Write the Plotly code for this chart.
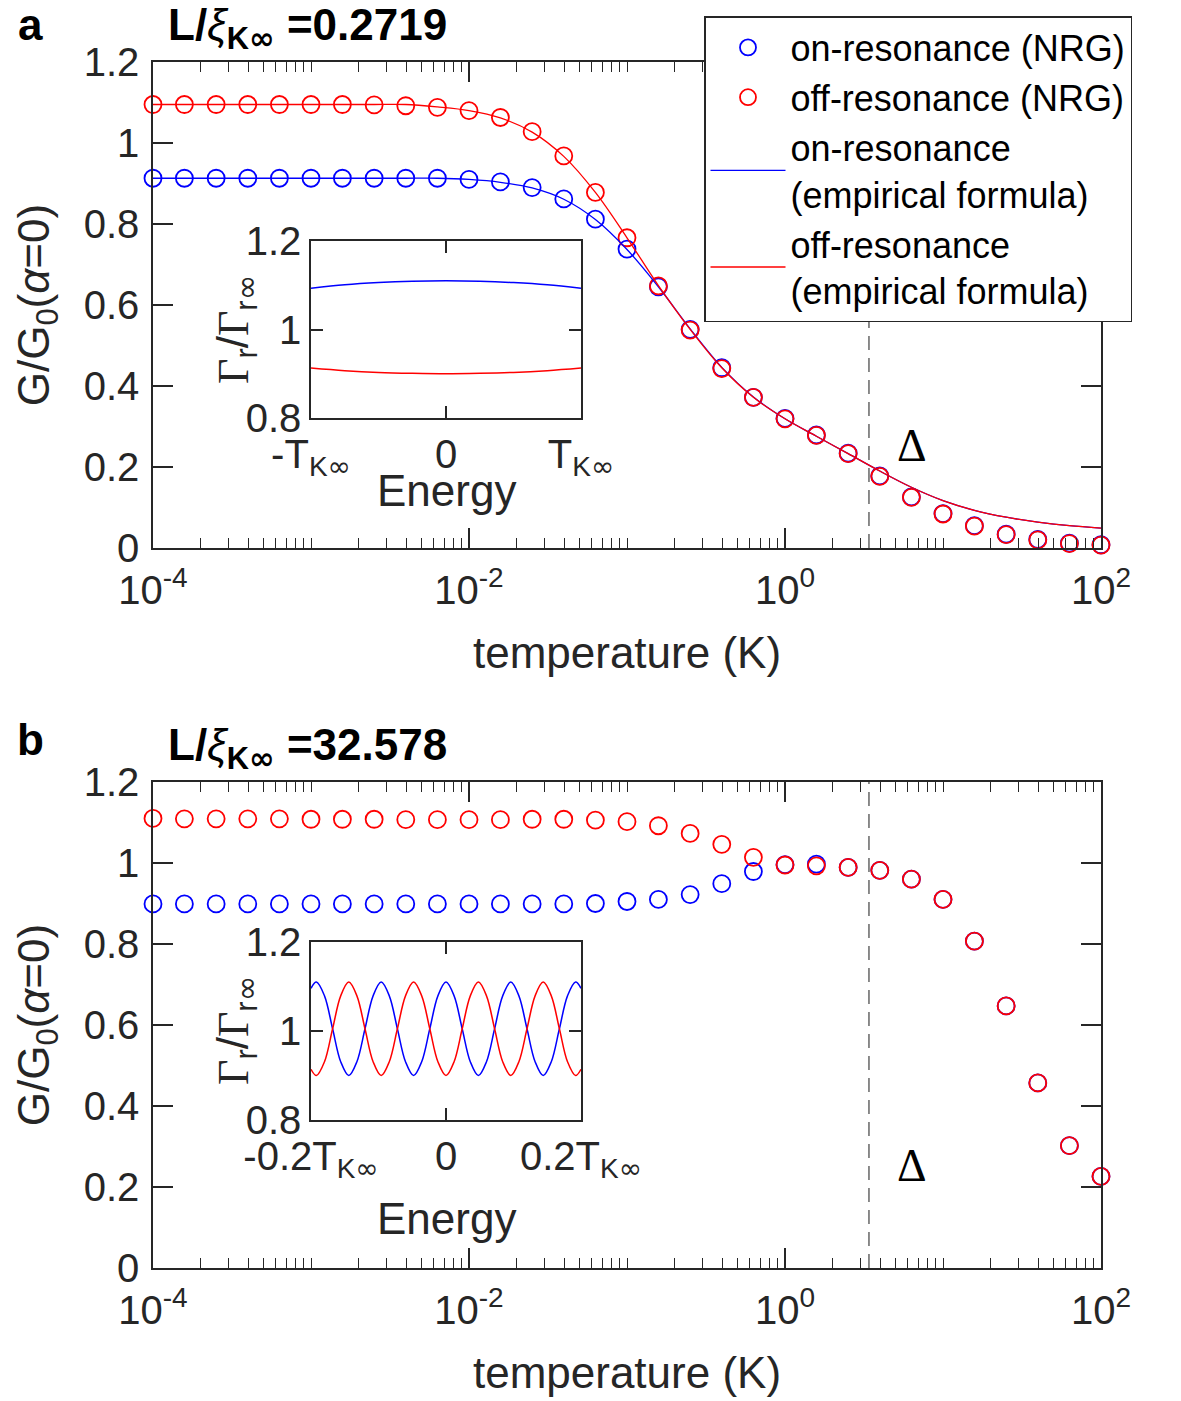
import math
import plotly.graph_objects as go

W, H = 1181, 1401

# ---------------- data ----------------
# temperature grid (K), 0.2-decade steps from 1e-4 to 1e2
temperature_K = [1.00e-4, 1.58e-4, 2.51e-4, 3.98e-4, 6.31e-4,
                 1.00e-3, 1.58e-3, 2.51e-3, 3.98e-3, 6.31e-3,
                 1.00e-2, 1.58e-2, 2.51e-2, 3.98e-2, 6.31e-2,
                 1.00e-1, 1.58e-1, 2.51e-1, 3.98e-1, 6.31e-1,
                 1.00, 1.58, 2.51, 3.98, 6.31,
                 10.0, 15.8, 25.1, 39.8, 63.1, 100.0]

# panel a (L/xi = 0.2719)
a_on_nrg = [0.913, 0.913, 0.913, 0.913, 0.913, 0.913, 0.913, 0.913, 0.913, 0.913,
            0.910, 0.904, 0.890, 0.862, 0.812, 0.738, 0.645, 0.540, 0.445, 0.372,
            0.320, 0.279, 0.234, 0.178, 0.126, 0.085, 0.055, 0.034, 0.021, 0.012, 0.008]
a_off_nrg = [1.095, 1.095, 1.095, 1.095, 1.095, 1.095, 1.095, 1.094, 1.092, 1.088,
             1.080, 1.063, 1.028, 0.968, 0.878, 0.766, 0.647, 0.538, 0.443, 0.372,
             0.319, 0.278, 0.233, 0.177, 0.125, 0.084, 0.054, 0.033, 0.020, 0.011, 0.007]
a_on_formula = [0.913, 0.913, 0.913, 0.913, 0.913, 0.913, 0.913, 0.913, 0.913, 0.913,
                0.910, 0.903, 0.889, 0.861, 0.811, 0.737, 0.645, 0.541, 0.446, 0.373,
                0.319, 0.276, 0.233, 0.190, 0.150, 0.117, 0.093, 0.076, 0.064, 0.055, 0.049]
a_off_formula = [1.095, 1.095, 1.095, 1.095, 1.095, 1.095, 1.095, 1.095, 1.095, 1.089,
                 1.080, 1.062, 1.027, 0.967, 0.878, 0.766, 0.648, 0.540, 0.445, 0.372,
                 0.319, 0.276, 0.233, 0.190, 0.150, 0.117, 0.093, 0.076, 0.064, 0.055, 0.049]

# panel b (L/xi = 32.578)
b_on_nrg = [0.899, 0.899, 0.899, 0.899, 0.899, 0.899, 0.899, 0.899, 0.899, 0.899,
            0.899, 0.899, 0.899, 0.899, 0.900, 0.905, 0.910, 0.922, 0.949, 0.979,
            0.996, 0.997, 0.989, 0.982, 0.960, 0.910, 0.807, 0.647, 0.457, 0.302, 0.226]
b_off_nrg = [1.110, 1.109, 1.109, 1.109, 1.109, 1.108, 1.108, 1.108, 1.107, 1.107,
             1.107, 1.107, 1.108, 1.108, 1.106, 1.102, 1.092, 1.073, 1.046, 1.014,
             0.995, 0.993, 0.989, 0.982, 0.960, 0.910, 0.807, 0.647, 0.457, 0.302, 0.226]

DELTA_K = 3.4          # dashed line position
DELTA_LABEL = (6.4, 0.254)

# insets: Gamma_r / Gamma_r_inf vs energy
inset_a_energy = [-1.0, -0.75, -0.5, -0.25, 0.0, 0.25, 0.5, 0.75, 1.0]
inset_a_on = [1.093, 1.101, 1.106, 1.109, 1.110, 1.109, 1.106, 1.101, 1.093]
inset_a_off = [0.913, 0.907, 0.903, 0.901, 0.900, 0.901, 0.903, 0.907, 0.913]

inset_b_energy = [-0.200, -0.192, -0.180, -0.168, -0.156, -0.144, -0.132, -0.120, -0.108,
                  -0.096, -0.084, -0.072, -0.060, -0.048, -0.036, -0.024, -0.012, 0.000,
                  0.012, 0.024, 0.036, 0.048, 0.060, 0.072, 0.084, 0.096, 0.108, 0.120,
                  0.132, 0.144, 0.156, 0.168, 0.180, 0.192, 0.200]
inset_b_on = [1.096, 1.110, 1.079, 1.005, 0.931, 0.900, 0.931, 1.005, 1.079,
              1.110, 1.079, 1.005, 0.931, 0.900, 0.931, 1.005, 1.079, 1.110,
              1.079, 1.005, 0.931, 0.900, 0.931, 1.005, 1.079, 1.110, 1.079, 1.005,
              0.931, 0.900, 0.931, 1.005, 1.079, 1.110, 1.096]
inset_b_off = [0.914, 0.900, 0.931, 1.005, 1.079, 1.110, 1.079, 1.005, 0.931,
               0.900, 0.931, 1.005, 1.079, 1.110, 1.079, 1.005, 0.931, 0.900,
               0.931, 1.005, 1.079, 1.110, 1.079, 1.005, 0.931, 0.900, 0.931, 1.005,
               1.079, 1.110, 1.079, 1.005, 0.931, 0.900, 0.914]

x_tick_vals = [1e-4, 1e-2, 1e0, 1e2]
x_tick_text = ["10<sup>-4</sup>", "10<sup>-2</sup>", "10<sup>0</sup>", "10<sup>2</sup>"]
y_tick_vals = [0, 0.2, 0.4, 0.6, 0.8, 1.0, 1.2]
y_tick_text = ["0", "0.2", "0.4", "0.6", "0.8", "1", "1.2"]

# ---------------- style ----------------
BLUE = "#0000FF"
RED = "#FF0000"
AX = "#262626"
SANS = "Liberation Sans, Arial, Helvetica, sans-serif"
SERIF = "Liberation Serif, Times New Roman, serif"
TICK_FS = 40
LABEL_FS = 44
INF = "<span style='font-family:DejaVu Sans'>∞</span>"


def px_x(p):
    return p / W


def px_y(p):
    return 1 - p / H


fig = go.Figure()

mk = dict(symbol="circle-open", size=17, line=dict(width=1.8))

# panel a
fig.add_trace(go.Scatter(x=temperature_K, y=a_on_nrg, mode="markers", name="on-resonance (NRG)",
                         marker=dict(color=BLUE, **mk), cliponaxis=False, xaxis="x", yaxis="y"))
fig.add_trace(go.Scatter(x=temperature_K, y=a_off_nrg, mode="markers", name="off-resonance (NRG)",
                         marker=dict(color=RED, **mk), cliponaxis=False, xaxis="x", yaxis="y"))
fig.add_trace(go.Scatter(x=temperature_K, y=a_on_formula, mode="lines",
                         name="on-resonance<br>(empirical formula)",
                         line=dict(color=BLUE, width=1.3, shape="spline"), xaxis="x", yaxis="y"))
fig.add_trace(go.Scatter(x=temperature_K, y=a_off_formula, mode="lines",
                         name="off-resonance<br>(empirical formula)",
                         line=dict(color=RED, width=1.3, shape="spline"), xaxis="x", yaxis="y"))

# panel b
fig.add_trace(go.Scatter(x=temperature_K, y=b_on_nrg, mode="markers", showlegend=False,
                         marker=dict(color=BLUE, **mk), cliponaxis=False, xaxis="x2", yaxis="y2"))
fig.add_trace(go.Scatter(x=temperature_K, y=b_off_nrg, mode="markers", showlegend=False,
                         marker=dict(color=RED, **mk), cliponaxis=False, xaxis="x2", yaxis="y2"))

# insets
fig.add_trace(go.Scatter(x=inset_a_energy, y=inset_a_on, mode="lines", showlegend=False,
                         line=dict(color=BLUE, width=1.5, shape="spline"), xaxis="x3", yaxis="y3"))
fig.add_trace(go.Scatter(x=inset_a_energy, y=inset_a_off, mode="lines", showlegend=False,
                         line=dict(color=RED, width=1.5, shape="spline"), xaxis="x3", yaxis="y3"))
fig.add_trace(go.Scatter(x=inset_b_energy, y=inset_b_on, mode="lines", showlegend=False,
                         line=dict(color=BLUE, width=1.5, shape="spline"), xaxis="x4", yaxis="y4"))
fig.add_trace(go.Scatter(x=inset_b_energy, y=inset_b_off, mode="lines", showlegend=False,
                         line=dict(color=RED, width=1.5, shape="spline"), xaxis="x4", yaxis="y4"))

common = dict(showline=True, linecolor=AX, linewidth=1.5, mirror="ticks", ticks="inside",
              tickcolor=AX, tickwidth=1.5, showgrid=False, zeroline=False, automargin=False,
              tickfont=dict(family=SANS, size=TICK_FS, color=AX))

minor_vals = [m * 10.0 ** n for n in range(-4, 2) for m in range(1, 10)
              if not (m == 1 and n % 2 == 0)]

main_x = dict(common, type="log", range=[-4, 2], tickmode="array", tickvals=x_tick_vals,
              ticktext=x_tick_text, ticklen=20, ticklabelstandoff=6,
              minor=dict(tickmode="array", tickvals=minor_vals, ticks="inside", ticklen=10,
                         tickcolor=AX, tickwidth=1.2, showgrid=False),
              title=dict(text="temperature (K)", font=dict(family=SANS, size=LABEL_FS, color=AX),
                         standoff=26))
main_y = dict(common, range=[0, 1.2], tickmode="array", tickvals=y_tick_vals, ticktext=y_tick_text,
              ticklen=20, ticklabelstandoff=4,
              title=dict(text="G/G<sub>0</sub>(<i>α</i>=0)",
                         font=dict(family=SANS, size=LABEL_FS, color=AX), standoff=20))

fig.update_layout(
    width=W, height=H, margin=dict(l=0, r=0, t=0, b=0, autoexpand=False),
    paper_bgcolor="white", plot_bgcolor="white",
    font=dict(family=SANS, color=AX),
    xaxis=dict(main_x, domain=[px_x(153), px_x(1101)], anchor="y"),
    yaxis=dict(main_y, domain=[px_y(548), px_y(62)], anchor="x"),
    xaxis2=dict(main_x, domain=[px_x(153), px_x(1101)], anchor="y2"),
    yaxis2=dict(main_y, domain=[px_y(1268), px_y(782)], anchor="x2"),
    xaxis3=dict(common, range=[-1, 1], tickmode="array", tickvals=[-1, 0, 1],
                ticktext=["-T<sub>K%s</sub>" % INF, "0", "T<sub>K%s</sub>" % INF], ticklen=12,
                domain=[px_x(311), px_x(581)], anchor="y3"),
    yaxis3=dict(common, range=[0.8, 1.2], tickmode="array", tickvals=[0.8, 1.0, 1.2],
                ticktext=["0.8", "1", "1.2"], ticklen=12,
                domain=[px_y(418), px_y(241)], anchor="x3"),
    xaxis4=dict(common, range=[-0.2, 0.2], tickmode="array", tickvals=[-0.2, 0, 0.2],
                ticktext=["-0.2T<sub>K%s</sub>" % INF, "0", "0.2T<sub>K%s</sub>" % INF],
                ticklen=12, domain=[px_x(311), px_x(581)], anchor="y4"),
    yaxis4=dict(common, range=[0.8, 1.2], tickmode="array", tickvals=[0.8, 1.0, 1.2],
                ticktext=["0.8", "1", "1.2"], ticklen=12,
                domain=[px_y(1120), px_y(942)], anchor="x4"),
    legend=dict(x=px_x(1132), xanchor="right", y=px_y(16), yanchor="top",
                bgcolor="white", bordercolor=AX, borderwidth=1.5,
                font=dict(family=SANS, size=36, color="black"),
                itemwidth=75, tracegroupgap=0, valign="middle"),
)

# dashed Delta lines
for xr, yr in (("x", "y domain"), ("x2", "y2 domain")):
    fig.add_shape(type="line", xref=xr, yref=yr, x0=DELTA_K, x1=DELTA_K, y0=0, y1=1,
                  line=dict(color="#404040", width=1.2, dash="14px,8px"))

ann = []
for xr, yr in (("x", "y"), ("x2", "y2")):
    ann.append(dict(xref=xr, yref=yr, x=math.log10(DELTA_LABEL[0]), y=DELTA_LABEL[1], text="Δ",
                    showarrow=False, font=dict(family=SERIF, size=46, color="black")))

gamma_title = ("<span style='font-family:Liberation Serif'>Γ</span><sub>r</sub>/"
               "<span style='font-family:Liberation Serif'>Γ</span><sub>r%s</sub>" % INF)
for cy, ey in ((330, 490), (1031, 1218)):
    ann.append(dict(xref="paper", yref="paper", x=px_x(236), y=px_y(cy), text=gamma_title,
                    textangle=-90, showarrow=False, xanchor="center", yanchor="middle",
                    font=dict(family=SANS, size=LABEL_FS, color=AX)))
    ann.append(dict(xref="paper", yref="paper", x=px_x(446), y=px_y(ey), text="Energy",
                    showarrow=False, xanchor="center", yanchor="middle",
                    font=dict(family=SANS, size=LABEL_FS, color=AX)))

for letter, ly in (("a", 24), ("b", 740)):
    ann.append(dict(xref="paper", yref="paper", x=px_x(30), y=px_y(ly), text="<b>%s</b>" % letter,
                    showarrow=False, xanchor="center", yanchor="middle",
                    font=dict(family=SANS, size=44, color="black")))

for val, ty in (("0.2719", 28), ("32.578", 748)):
    ann.append(dict(xref="paper", yref="paper", x=px_x(166), y=px_y(ty),
                    text="<b>L/</b><i>ξ</i><sub><b>K%s</b></sub><b> =%s</b>" % (INF, val),
                    showarrow=False, xanchor="left", yanchor="middle",
                    font=dict(family=SANS, size=44, color="black")))

fig.update_layout(annotations=ann)

fig.write_html("out.html")
